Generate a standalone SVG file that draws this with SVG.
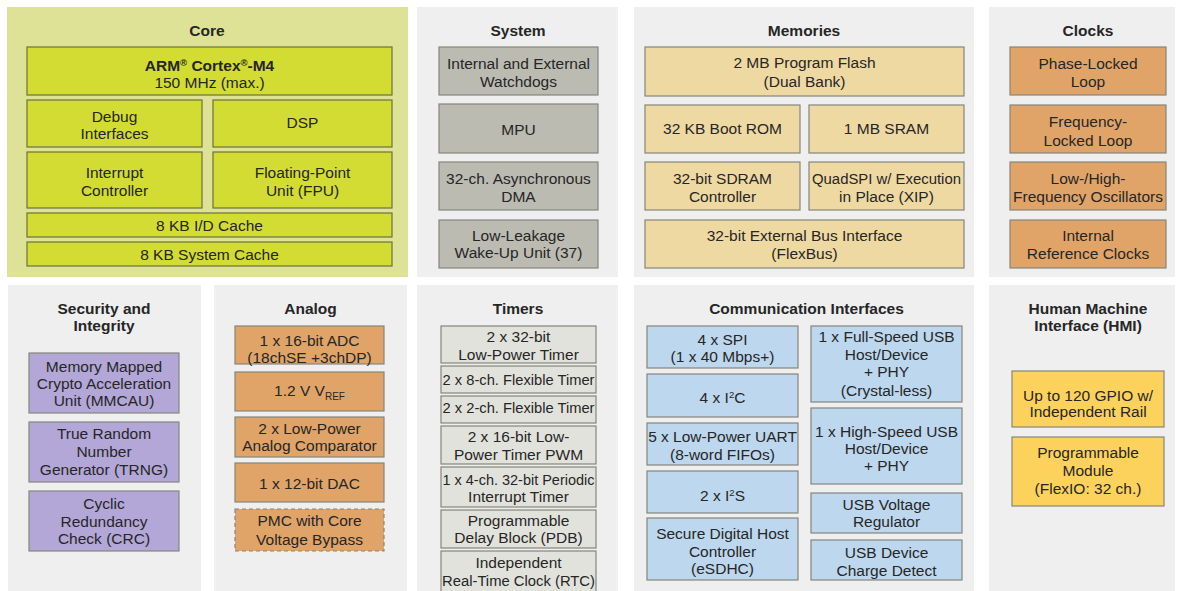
<svg xmlns="http://www.w3.org/2000/svg" width="1179" height="591" viewBox="0 0 1179 591">
<style>
text{font-family:"Liberation Sans",Arial,sans-serif;font-size:15.5px;fill:#262626;text-anchor:middle}
.t{font-weight:bold}
.p{fill:#efefef}
.pc{fill:#dde297}
.b{stroke:#85857c;stroke-width:1.2}
.core{fill:#d2dc32;stroke:#6e7040;stroke-width:1.2}
.sys{fill:#bbbbb2}
.mem{fill:#efd9a2}
.org{fill:#e0a468}
.sec{fill:#b3a7d8}
.tim{fill:#e2e2dc}
.com{fill:#bdd7ee}
.hmi{fill:#fdd25c}
.dash{stroke-dasharray:4 3}
</style>
<rect width="1179" height="591" fill="#fff"/>
<g id="panels">
<rect class="pc" x="7" y="7" width="401" height="270"/>
<rect class="p" x="417" y="7" width="201" height="270"/>
<rect class="p" x="634" y="7" width="340" height="270"/>
<rect class="p" x="989" y="7" width="186" height="270"/>
<rect class="p" x="8" y="285" width="193" height="306"/>
<rect class="p" x="214" y="285" width="193" height="306"/>
<rect class="p" x="417" y="285" width="201" height="306"/>
<rect class="p" x="634" y="285" width="340" height="306"/>
<rect class="p" x="989" y="285" width="186" height="306"/>
</g>
<g id="titles" class="t">
<text class="t" x="207" y="35.5">Core</text>
<text class="t" x="518" y="35.5">System</text>
<text class="t" x="804" y="35.5">Memories</text>
<text class="t" x="1088" y="35.5">Clocks</text>
<text class="t" x="104" y="314">Security and</text>
<text class="t" x="104" y="330.5">Integrity</text>
<text class="t" x="310.5" y="314">Analog</text>
<text class="t" x="518" y="314">Timers</text>
<text class="t" x="806.5" y="314">Communication Interfaces</text>
<text class="t" x="1088" y="314">Human Machine</text>
<text class="t" x="1088" y="330.5">Interface (HMI)</text>
</g>
<g id="connectors"/>
<!-- Core -->
<g id="core-cpu"><rect class="core" x="27" y="47" width="365" height="48"/>
<text x="209.5" y="70.5" class="t">ARM<tspan font-size="9.5" dy="-5">®</tspan><tspan dy="5"> Cortex</tspan><tspan font-size="9.5" dy="-5">®</tspan><tspan dy="5">-M4</tspan></text>
<text x="209.5" y="88">150 MHz (max.)</text></g>
<g id="core-debug"><rect class="core" x="27" y="100" width="175" height="47"/><text x="114.5" y="121.5">Debug</text><text x="114.5" y="138.5">Interfaces</text></g>
<g id="core-dsp"><rect class="core" x="213" y="100" width="179" height="47"/><text x="302.5" y="128">DSP</text></g>
<g id="core-int"><rect class="core" x="27" y="152" width="175" height="56"/><text x="114.5" y="178">Interrupt</text><text x="114.5" y="196">Controller</text></g>
<g id="core-fpu"><rect class="core" x="213" y="152" width="179" height="56"/><text x="302.5" y="178">Floating-Point</text><text x="302.5" y="196">Unit (FPU)</text></g>
<g id="core-idc"><rect class="core" x="27" y="213" width="365" height="24"/><text x="209.5" y="231">8 KB I/D Cache</text></g>
<g id="core-sc"><rect class="core" x="27" y="242" width="365" height="24"/><text x="209.5" y="259.5">8 KB System Cache</text></g>
<!-- System -->
<g id="sys-wdog"><rect class="b sys" x="439" y="47" width="159" height="48"/><text x="518.5" y="69">Internal and External</text><text x="518.5" y="86.5">Watchdogs</text></g>
<g id="sys-mpu"><rect class="b sys" x="439" y="104" width="159" height="49"/><text x="518.5" y="134.5">MPU</text></g>
<g id="sys-dma"><rect class="b sys" x="439" y="162" width="159" height="48"/><text x="518.5" y="184">32-ch. Asynchronous</text><text x="518.5" y="202">DMA</text></g>
<g id="sys-llwu"><rect class="b sys" x="439" y="220" width="159" height="48"/><text x="518.5" y="240.5">Low-Leakage</text><text x="518.5" y="258">Wake-Up Unit (37)</text></g>
<!-- Memories -->
<g id="mem-flash"><rect class="b mem" x="645" y="47" width="319" height="49"/><text x="804.5" y="68">2 MB Program Flash</text><text x="804.5" y="86.5">(Dual Bank)</text></g>
<g id="mem-rom"><rect class="b mem" x="645" y="105" width="155" height="48"/><text x="722.5" y="134">32 KB Boot ROM</text></g>
<g id="mem-sram"><rect class="b mem" x="809" y="105" width="155" height="48"/><text x="886.5" y="134">1 MB SRAM</text></g>
<g id="mem-sdram"><rect class="b mem" x="645" y="162" width="155" height="48"/><text x="722.5" y="184">32-bit SDRAM</text><text x="722.5" y="201.5">Controller</text></g>
<g id="mem-qspi"><rect class="b mem" x="809" y="162" width="155" height="48"/><text x="886.5" y="184" textLength="149" lengthAdjust="spacingAndGlyphs">QuadSPI w/ Execution</text><text x="886.5" y="201.5">in Place (XIP)</text></g>
<g id="mem-flexbus"><rect class="b mem" x="645" y="220" width="319" height="48"/><text x="804.5" y="241">32-bit External Bus Interface</text><text x="804.5" y="259">(FlexBus)</text></g>
<!-- Clocks -->
<g id="clk-pll"><rect class="b org" x="1010" y="47" width="156" height="48"/><text x="1088" y="69">Phase-Locked</text><text x="1088" y="86.5">Loop</text></g>
<g id="clk-fll"><rect class="b org" x="1010" y="105" width="156" height="48"/><text x="1088" y="127">Frequency-</text><text x="1088" y="145.5">Locked Loop</text></g>
<g id="clk-osc"><rect class="b org" x="1010" y="162" width="156" height="48"/><text x="1088" y="184">Low-/High-</text><text x="1088" y="201.5">Frequency Oscillators</text></g>
<g id="clk-irc"><rect class="b org" x="1010" y="220" width="156" height="48"/><text x="1088" y="240.5">Internal</text><text x="1088" y="259">Reference Clocks</text></g>
<!-- Security -->
<g id="sec-mmcau"><rect class="b sec" x="29" y="353" width="150" height="60"/><text x="104" y="371.5">Memory Mapped</text><text x="104" y="389">Crypto Acceleration</text><text x="104" y="406">Unit (MMCAU)</text></g>
<g id="sec-trng"><rect class="b sec" x="29" y="422" width="150" height="60"/><text x="104" y="439">True Random</text><text x="104" y="457">Number</text><text x="104" y="475">Generator (TRNG)</text></g>
<g id="sec-crc"><rect class="b sec" x="29" y="491" width="150" height="60"/><text x="104" y="509">Cyclic</text><text x="104" y="526.5">Redundancy</text><text x="104" y="544">Check (CRC)</text></g>
<!-- Analog -->
<g id="ana-adc"><rect class="b org" x="235" y="326" width="149" height="38"/><text x="309.5" y="345.5">1 x 16-bit ADC</text><text x="309.5" y="363">(18chSE +3chDP)</text></g>
<g id="ana-vref"><rect class="b org" x="235" y="372" width="149" height="39"/><text x="309.5" y="396">1.2 V V<tspan font-size="10" dy="4">REF</tspan></text></g>
<g id="ana-cmp"><rect class="b org" x="235" y="417" width="149" height="40"/><text x="309.5" y="434">2 x Low-Power</text><text x="309.5" y="451">Analog Comparator</text></g>
<g id="ana-dac"><rect class="b org" x="235" y="463" width="149" height="39"/><text x="309.5" y="489">1 x 12-bit DAC</text></g>
<g id="ana-pmc"><rect class="b org dash" x="235" y="509" width="149" height="42"/><text x="309.5" y="526">PMC with Core</text><text x="309.5" y="544.5">Voltage Bypass</text></g>
<!-- Timers -->
<g id="tim-lptmr"><rect class="b tim" x="441" y="326" width="155" height="37"/><text x="518.5" y="341.5">2 x 32-bit</text><text x="518.5" y="359.5">Low-Power Timer</text></g>
<g id="tim-ftm8"><rect class="b tim" x="441" y="366" width="155" height="27"/><text x="518.5" y="384.5" textLength="152" lengthAdjust="spacingAndGlyphs">2 x 8-ch. Flexible Timer</text></g>
<g id="tim-ftm2"><rect class="b tim" x="441" y="396" width="155" height="27"/><text x="518.5" y="413" textLength="152" lengthAdjust="spacingAndGlyphs">2 x 2-ch. Flexible Timer</text></g>
<g id="tim-tpm"><rect class="b tim" x="441" y="426" width="155" height="38"/><text x="518.5" y="441.5">2 x 16-bit Low-</text><text x="518.5" y="460">Power Timer PWM</text></g>
<g id="tim-pit"><rect class="b tim" x="441" y="467" width="155" height="40"/><text x="518.5" y="484.5" textLength="152" lengthAdjust="spacingAndGlyphs">1 x 4-ch. 32-bit Periodic</text><text x="518.5" y="502">Interrupt Timer</text></g>
<g id="tim-pdb"><rect class="b tim" x="441" y="510" width="155" height="38"/><text x="518.5" y="525.5">Programmable</text><text x="518.5" y="543">Delay Block (PDB)</text></g>
<g id="tim-rtc"><rect class="b tim" x="441" y="551" width="155" height="45"/><text x="518.5" y="568">Independent</text><text x="518.5" y="585.5" textLength="153" lengthAdjust="spacingAndGlyphs">Real-Time Clock (RTC)</text></g>
<!-- Communication -->
<g id="com-spi"><rect class="b com" x="647" y="326" width="151" height="42"/><text x="722.5" y="345">4 x SPI</text><text x="722.5" y="361.5">(1 x 40 Mbps+)</text></g>
<g id="com-i2c"><rect class="b com" x="647" y="374" width="151" height="43"/><text x="722.5" y="403">4 x I<tspan font-size="9.5" dy="-5">2</tspan><tspan dy="5">C</tspan></text></g>
<g id="com-uart"><rect class="b com" x="647" y="423" width="151" height="42"/><text x="722.5" y="441.5">5 x Low-Power UART</text><text x="722.5" y="459.5">(8-word FIFOs)</text></g>
<g id="com-i2s"><rect class="b com" x="647" y="471" width="151" height="42"/><text x="722.5" y="500.5">2 x I<tspan font-size="9.5" dy="-5">2</tspan><tspan dy="5">S</tspan></text></g>
<g id="com-sdhc"><rect class="b com" x="647" y="518" width="151" height="62"/><text x="722.5" y="539">Secure Digital Host</text><text x="722.5" y="556.5">Controller</text><text x="722.5" y="574">(eSDHC)</text></g>
<g id="com-usbfs"><rect class="b com" x="811" y="326" width="151" height="76"/><text x="886.5" y="342">1 x Full-Speed USB</text><text x="886.5" y="359.5">Host/Device</text><text x="886.5" y="377">+ PHY</text><text x="886.5" y="395.5">(Crystal-less)</text></g>
<g id="com-usbhs"><rect class="b com" x="811" y="408" width="151" height="76"/><text x="886.5" y="437">1 x High-Speed USB</text><text x="886.5" y="454">Host/Device</text><text x="886.5" y="471">+ PHY</text></g>
<g id="com-usbreg"><rect class="b com" x="811" y="493" width="151" height="40"/><text x="886.5" y="509.5">USB Voltage</text><text x="886.5" y="527">Regulator</text></g>
<g id="com-usbdcd"><rect class="b com" x="811" y="540" width="151" height="40"/><text x="886.5" y="558">USB Device</text><text x="886.5" y="575.5">Charge Detect</text></g>
<!-- HMI -->
<g id="hmi-gpio"><rect class="b hmi" x="1012" y="371" width="152" height="56"/><text x="1088" y="400.5">Up to 120 GPIO w/</text><text x="1088" y="416.5">Independent Rail</text></g>
<g id="hmi-flexio"><rect class="b hmi" x="1012" y="437" width="152" height="69"/><text x="1088" y="458">Programmable</text><text x="1088" y="476">Module</text><text x="1088" y="494">(FlexIO: 32 ch.)</text></g>
</svg>
